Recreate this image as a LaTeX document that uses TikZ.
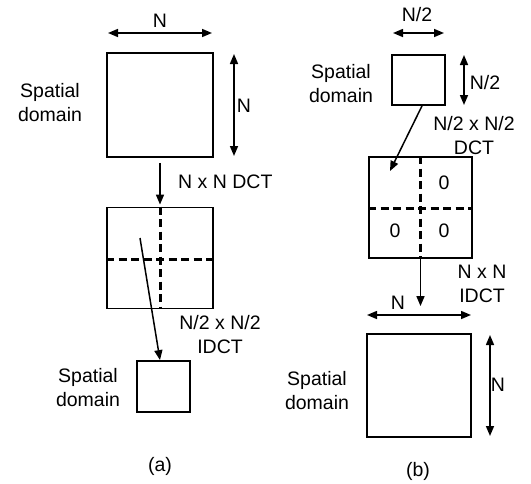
\documentclass[tikz,border=0pt]{standalone}
\usepackage{fontspec}
\setmainfont{Liberation Sans}
\usetikzlibrary{arrows.meta}
\begin{document}
\begin{tikzpicture}[x=1pt,y=-1pt,
  txt/.style={font=\fontsize{19.5}{24}\selectfont, inner sep=0pt, align=center},
  blk/.style={draw, line width=1.8pt, inner sep=0pt},
  sep/.style={line width=3pt, dash pattern=on 8pt off 4.5pt},
  arr/.style={line width=1.5pt, -{Triangle[length=10pt,width=8pt]}},
  dim/.style={line width=1.5pt, {Triangle[length=10pt,width=8pt]}-{Triangle[length=10pt,width=8pt]}}]
\useasboundingbox (0,0) rectangle (531,483);
% ---------------- (a) ----------------
\node[blk, minimum width=106pt, minimum height=104pt] (a1) at (160,105) {};
\node[blk, minimum width=106pt, minimum height=101pt] (a2) at (160,258) {};
\node[blk, minimum width=53pt, minimum height=51pt] (a3) at (163.5,386.5) {};
\draw[sep] (a2.north) -- (a2.south);
\draw[sep] (a2.west |- 0,259) -- (a2.east |- 0,259);
\node[txt] (a1lbl) at (50,103) {Spatial\\domain};
\node[txt] (a3lbl) at (88,388) {Spatial\\domain};
\coordinate (a1dl) at (108,33);
\coordinate (a1dr) at (212,33);
\draw[dim] (a1dl) -- (a1dr);
\node[txt] (a1n) at (160,21) {N};
\coordinate (a1dt) at (234,54);
\coordinate (a1db) at (234,156);
\draw[dim] (a1dt) -- (a1db);
\node[txt] (a1nv) at (244,106) {N};
\draw[arr] ([yshift=-5pt]a1.south) -- ([yshift=2pt]a2.north);
\node[txt, anchor=west] (dct) at (178,182) {N x N DCT};
\coordinate (a2in) at (140,238);
\draw[arr] (a2in) -- ([xshift=-3.5pt]a3.north);
\node[txt] (idct) at (220,335) {N/2 x N/2\\IDCT};
\node[txt] (alab) at (160,466) {(a)};
% ---------------- (b) ----------------
\node[blk, minimum width=53pt, minimum height=50pt] (b1) at (418.5,80) {};
\node[blk, minimum width=103pt, minimum height=101pt] (b2) at (420.5,207.5) {};
\node[blk, minimum width=104pt, minimum height=103pt] (b3) at (419,385.5) {};
\draw[sep] (b2.north) -- (b2.south);
\draw[sep] (b2.west |- 0,208) -- (b2.east |- 0,208);
\node[txt] (z1) at (444,183) {0};
\node[txt] (z2) at (395,231) {0};
\node[txt] (z3) at (444,231) {0};
\node[txt] (b1lbl) at (341,84) {Spatial\\domain};
\node[txt] (b3lbl) at (317,391) {Spatial\\domain};
\coordinate (b1dl) at (393,33);
\coordinate (b1dr) at (444,33);
\draw[dim] (b1dl) -- (b1dr);
\node[txt] (b1n) at (417,15) {N/2};
\coordinate (b1dt) at (464,55);
\coordinate (b1db) at (464,105);
\draw[dim] (b1dt) -- (b1db);
\node[txt] (b1nv) at (485,83) {N/2};
\coordinate (b2in) at (390,171);
\draw[arr] ([xshift=3.5pt]b1.south) -- (b2in);
\node[txt] (bdct) at (474,136) {N/2 x N/2\\DCT};
\draw[arr] (b2.south) -- ([yshift=27pt]b3.north -| b2.south);
\node[txt] (bidct) at (482,284) {N x N\\IDCT};
\coordinate (b3dl) at (367,315);
\coordinate (b3dr) at (471,315);
\draw[dim] (b3dl) -- (b3dr);
\node[txt] (b3n) at (398,303) {N};
\coordinate (b3dt) at (490,335);
\coordinate (b3db) at (490,436);
\draw[dim] (b3dt) -- (b3db);
\node[txt] (b3nv) at (498,385) {N};
\node[txt] (blab) at (418,471) {(b)};
\end{tikzpicture}
\end{document}
